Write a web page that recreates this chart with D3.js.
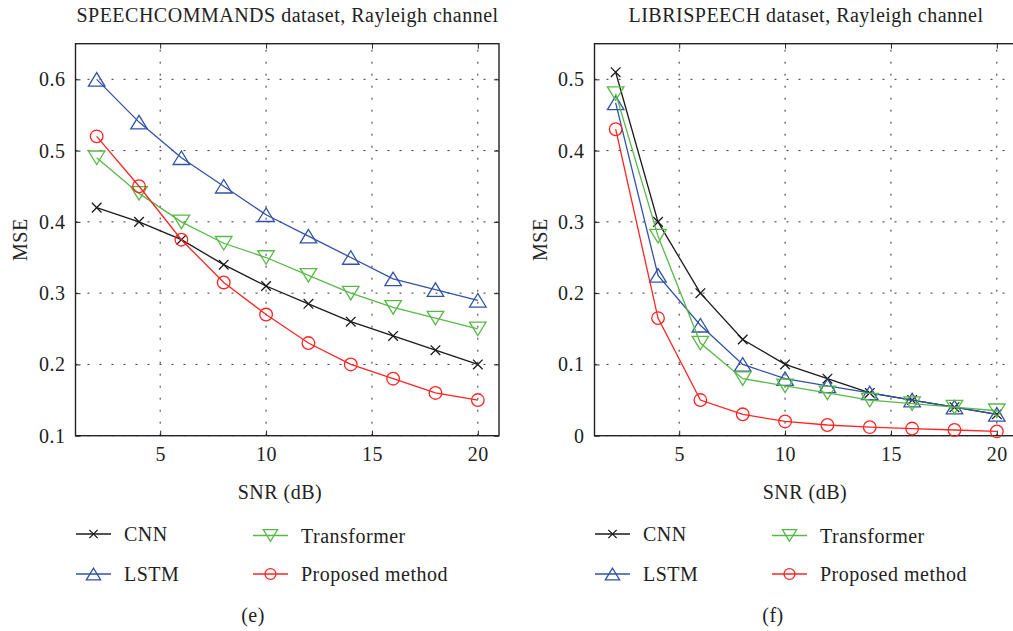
<!DOCTYPE html>
<html>
<head>
<meta charset="utf-8">
<script src="https://cdn.jsdelivr.net/npm/d3@7"></script>
<style>
  html, body { margin: 0; padding: 0; background: #fff; }
  svg { display: block; font-family: "Liberation Serif", "Times New Roman", serif; letter-spacing: 0.5px; }
</style>
</head>
<body>
<svg id="chart" width="1013" height="631"></svg>
<script>
// SNR values (dB) shared by both panels
const snr = [2, 4, 6, 8, 10, 12, 14, 16, 18, 20];

// Panel (e): SPEECHCOMMANDS dataset
const speechCNN         = [0.42, 0.40, 0.375, 0.34, 0.31, 0.285, 0.26, 0.24, 0.22, 0.20];
const speechLSTM        = [0.60, 0.54, 0.49, 0.45, 0.41, 0.38, 0.35, 0.32, 0.305, 0.29];
const speechTransformer = [0.49, 0.44, 0.40, 0.37, 0.35, 0.325, 0.30, 0.28, 0.265, 0.25];
const speechProposed    = [0.52, 0.45, 0.375, 0.315, 0.27, 0.23, 0.20, 0.18, 0.16, 0.15];

// Panel (f): LIBRISPEECH dataset
const libriCNN         = [0.51, 0.30, 0.20, 0.135, 0.10, 0.08, 0.06, 0.05, 0.04, 0.03];
const libriLSTM        = [0.467, 0.225, 0.155, 0.10, 0.08, 0.07, 0.06, 0.05, 0.04, 0.03];
const libriTransformer = [0.48, 0.28, 0.13, 0.08, 0.07, 0.06, 0.05, 0.045, 0.04, 0.035];
const libriProposed    = [0.43, 0.165, 0.05, 0.03, 0.02, 0.015, 0.012, 0.01, 0.008, 0.006];

// Tick labels
const xTicks = [5, 10, 15, 20];
const speechYTicks = [0.1, 0.2, 0.3, 0.4, 0.5, 0.6];
const libriYTicks  = [0, 0.1, 0.2, 0.3, 0.4, 0.5];

const seriesNames = ["CNN", "LSTM", "Transformer", "Proposed method"];
const seriesMarkers = ["cross", "up", "down", "circle"];
const seriesColors = ["#1a1a1a", "#3152a6", "#58b947", "#ff2424"];

const panels = [
  {
    title: "SPEECHCOMMANDS dataset, Rayleigh channel",
    tag: "(e)",
    series: [speechCNN, speechLSTM, speechTransformer, speechProposed],
    yDomain: [0.1, 0.65], yTicks: speechYTicks, yFmt: d3.format(".1f"),
    left: 75.5, right: 499, titleX: 287.5, labelX: 20, xLabelCx: 280,
    legendX: 76, legendX2: 253, tagX: 253
  },
  {
    title: "LIBRISPEECH dataset, Rayleigh channel",
    tag: "(f)",
    series: [libriCNN, libriLSTM, libriTransformer, libriProposed],
    yDomain: [0, 0.55], yTicks: libriYTicks, yFmt: d => d === 0 ? "0" : d3.format(".1f")(d),
    left: 594.5, right: 1018, titleX: 806, labelX: 540, xLabelCx: 805,
    legendX: 595, legendX2: 772, tagX: 773
  }
];

const plotTop = 43.7, plotBottom = 435.7;
const svg = d3.select("#chart");
const fontSize = 20;

function drawMarker(g, type, x, y, color, s) {
  if (type === "cross") {
    const h = s * 0.32;
    g.append("path")
      .attr("d", `M${x - h},${y - h}L${x + h},${y + h}M${x - h},${y + h}L${x + h},${y - h}`)
      .attr("stroke", color).attr("stroke-width", 1.3).attr("fill", "none");
  } else if (type === "up" || type === "down") {
    const w = s * 0.55, hh = s * 0.45;
    const sign = type === "up" ? 1 : -1;
    const pts = [[x, y - sign * hh], [x - w, y + sign * hh], [x + w, y + sign * hh]];
    g.append("path").attr("d", "M" + pts.map(p => p.join(",")).join("L") + "Z")
      .attr("stroke", color).attr("stroke-width", 1.3).attr("fill", "none");
  } else {
    g.append("circle").attr("cx", x).attr("cy", y).attr("r", s * 0.42)
      .attr("stroke", color).attr("stroke-width", 1.3).attr("fill", "none");
  }
}

panels.forEach(p => {
  const x = d3.scaleLinear().domain([1, 21]).range([p.left, p.right]);
  const y = d3.scaleLinear().domain(p.yDomain).range([plotBottom, plotTop]);
  const g = svg.append("g");

  // dotted grid
  g.append("g").selectAll("line").data(xTicks).join("line")
    .attr("x1", d => x(d)).attr("x2", d => x(d)).attr("y1", plotBottom).attr("y2", plotTop)
    .attr("stroke", "#333").attr("stroke-width", 1).attr("stroke-dasharray", "2,10");
  g.append("g").selectAll("line").data(p.yTicks).join("line")
    .attr("y1", d => y(d)).attr("y2", d => y(d)).attr("x1", p.left).attr("x2", p.right)
    .attr("stroke", "#333").attr("stroke-width", 1).attr("stroke-dasharray", "2,10");

  // axes with inward ticks
  const xAxis = d3.axisBottom(x).tickValues(xTicks).tickSize(-5).tickPadding(11).tickFormat(d3.format("d"));
  const yAxis = d3.axisLeft(y).tickValues(p.yTicks).tickSize(-5).tickPadding(10).tickFormat(p.yFmt);
  const xa = g.append("g").attr("transform", `translate(0,${plotBottom})`).call(xAxis);
  const ya = g.append("g").attr("transform", `translate(${p.left},0)`).call(yAxis);
  const ya2 = g.append("g").attr("transform", `translate(${p.right},0)`)
    .call(d3.axisRight(y).tickValues(p.yTicks).tickSize(-5).tickFormat(""));
  const xa2 = g.append("g").attr("transform", `translate(0,${plotTop})`)
    .call(d3.axisTop(x).tickValues(xTicks).tickSize(-5).tickFormat(""));
  [xa, ya, ya2, xa2].forEach(a => {
    a.select(".domain").remove();
    a.selectAll("line").attr("stroke", "#222");
    a.selectAll("text").attr("font-family", "Liberation Serif").attr("font-size", fontSize).attr("fill", "#222");
  });
  g.append("rect").attr("x", p.left).attr("y", plotTop)
    .attr("width", p.right - p.left).attr("height", plotBottom - plotTop)
    .attr("fill", "none").attr("stroke", "#222").attr("stroke-width", 1.4);

  // series lines and markers
  const line = d3.line().x((d, i) => x(snr[i])).y(d => y(d));
  p.series.forEach((vals, k) => {
    g.append("path").datum(vals).attr("d", line)
      .attr("fill", "none").attr("stroke", seriesColors[k]).attr("stroke-width", 1.3);
    const mg = g.append("g");
    vals.forEach((v, i) => drawMarker(mg, seriesMarkers[k], x(snr[i]), y(v), seriesColors[k], 15));
  });

  // titles and axis labels
  g.append("text").attr("x", p.titleX).attr("y", 22)
    .attr("text-anchor", "middle").attr("font-size", fontSize).attr("fill", "#222").text(p.title);
  g.append("text").attr("transform", `translate(${p.labelX + 7},${(plotTop + plotBottom) / 2}) rotate(-90)`)
    .attr("text-anchor", "middle").attr("font-size", fontSize).attr("fill", "#222").text("MSE");
  g.append("text").attr("x", p.xLabelCx).attr("y", 499)
    .attr("text-anchor", "middle").attr("font-size", fontSize).attr("fill", "#222").text("SNR (dB)");

  // legend in two columns
  const legendRows = [534, 574];
  seriesNames.forEach((name, k) => {
    const lx = k < 2 ? p.legendX : p.legendX2;
    const ly = legendRows[k % 2] + (k === 2 ? 1.5 : 0);
    g.append("line").attr("x1", lx).attr("x2", lx + 35).attr("y1", ly).attr("y2", ly)
      .attr("stroke", seriesColors[k]).attr("stroke-width", 1.3);
    drawMarker(g, seriesMarkers[k], lx + 17.5, ly, seriesColors[k], 13);
    g.append("text").attr("x", lx + 48).attr("y", ly + 7)
      .attr("font-size", fontSize).attr("fill", "#222").text(name);
  });

  g.append("text").attr("x", p.tagX).attr("y", 622)
    .attr("text-anchor", "middle").attr("font-size", fontSize).attr("fill", "#222").text(p.tag);
});
</script>
</body>
</html>
